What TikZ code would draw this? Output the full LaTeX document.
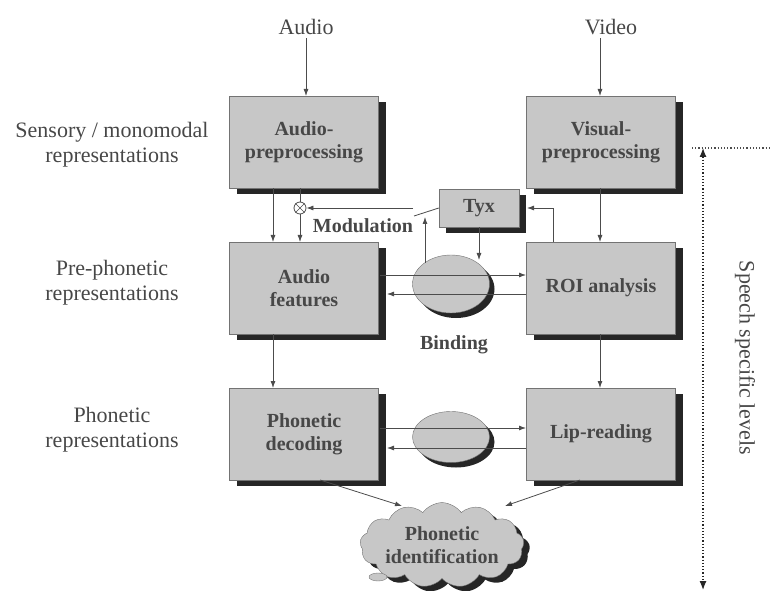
\documentclass[tikz,border=0pt]{standalone}
\usepackage{fontspec}
\setmainfont{Liberation Serif}
\usetikzlibrary{shadows,shapes.symbols,shapes.geometric,arrows.meta}
\begin{document}
\begin{tikzpicture}[x=1pt,y=-1pt,
  every node/.style={font=\fontsize{22}{25}\selectfont},
  lbl/.style={align=center, text=black!72},
  shad/.style={drop shadow={shadow xshift=7pt,shadow yshift=-6pt,fill=black!85,opacity=1}},
  bf/.style={font=\fontsize{20}{23}\selectfont\bfseries, text=black!72},
  blk/.style={shad, draw=black!55, fill=black!22, minimum width=149pt, minimum height=92pt, align=center, bf, inner sep=0pt},
  ell/.style={ellipse, draw=black!55, fill=black!22, minimum width=77pt, inner sep=0pt, drop shadow={shadow xshift=5pt,shadow yshift=-5pt,fill=black!85,opacity=1}},
  arr/.style={draw=black!70, line width=0.8pt, -{Latex[length=7pt,width=5pt]}},
  ln/.style={draw=black!70, line width=0.8pt},
  dot/.style={draw=black!70, line width=1.2pt, dotted}
]
\useasboundingbox (0,0) rectangle (772,591);

% top inputs
\node[lbl] (audio) at (306,27) {Audio};
\node[lbl] (video) at (611,27) {Video};

% left labels
\node[lbl] (l1) at (112,145) {Sensory / monomodal\\representations};
\node[lbl] (l2) at (112,283) {Pre-phonetic\\representations};
\node[lbl] (l3) at (112,430) {Phonetic\\representations};

% blocks
\node[blk] (ap) at (304,142) {Audio-\\preprocessing};
\node[blk] (vp) at (601,142) {Visual-\\preprocessing};
\node[blk] (af) at (304,288) {Audio\\features};
\node[blk] (roi) at (601,288) {ROI analysis};
\node[blk] (pd) at (304,434) {Phonetic\\decoding};
\node[blk] (lr) at (601,434) {Lip-reading};

% Tyx
\node[blk, minimum width=80pt, minimum height=38pt] (tyx) at (479,208) {Tyx};

% binding ellipses
\node[ell, minimum height=58pt] (b1) at (451,284) {};
\node[ell, minimum height=51pt] (b2) at (451,437) {};

% cloud
\node[cloud, cloud puffs=13, cloud puff arc=110, aspect=2.4, draw=black!55, fill=black!22, minimum width=160pt, minimum height=72pt, inner sep=0pt, align=center, bf, drop shadow={shadow xshift=6pt,shadow yshift=-5pt,fill=black!85,opacity=1}] (cl) at (442,545) {Phonetic\\identification};
\node[ellipse, draw=black!55, fill=black!22, minimum width=18pt, minimum height=8pt, inner sep=0pt] (tail) at (378,577) {};

% bold labels
\node[bf] (modl) at (363,226) {Modulation};
\node[bf] (bind) at (454,345) {Binding};

% inputs
\draw[arr] (audio.south -| 306,0) -- (306,96);
\draw[arr] (video.south -| 600,0) -- (600,96);

% audio preproc -> audio features
\draw[arr] (273,188) -- (273,242);
\node[circle, draw=black!70, line width=0.8pt, minimum size=12pt, inner sep=0pt] (mod) at (300,208) {};
\draw[black!70, line width=0.7pt] (mod.north west) -- (mod.south east) (mod.north east) -- (mod.south west);
\draw[ln] (300,188) -- (mod.north);
\draw[arr] (mod.south) -- (300,242);

% modulation switch
\coordinate (sw1) at (413,208);
\coordinate (sw2) at (414,216);
\draw[arr] (sw1) -- (mod.east);
\draw[ln] (tyx.west) -- (sw2);
\draw[arr] (425,263) -- (425,217);
\draw[arr] (tyx.south -| 479,0) -- (479,260);

% ROI -> Tyx
\coordinate (rt) at (553,208);
\draw[arr] (553,242) -- (rt) -- (527,208);

% visual -> ROI
\draw[arr] (600,188) -- (600,242);

% binding lines level 1
\draw[arr] (380,275) -- (526,275);
\draw[arr] (526,294) -- (387,294);

% downward
\draw[arr] (273,334) -- (273,388);
\draw[arr] (600,334) -- (600,388);

% binding lines level 2
\draw[arr] (380,428) -- (526,428);
\draw[arr] (526,448) -- (387,448);

% to cloud
\draw[arr] (320,480) -- (402,506);
\draw[arr] (580,480) -- (505,506);

% speech specific levels
\draw[dot] (692,148) -- (772,148);
\draw[dot, {Latex[length=9pt,width=7pt]}-{Latex[length=9pt,width=7pt]}, black!85] (703,148) -- (703,590);
\node[lbl, rotate=-90] (ssl) at (745,358) {Speech specific levels};
\end{tikzpicture}
\end{document}
